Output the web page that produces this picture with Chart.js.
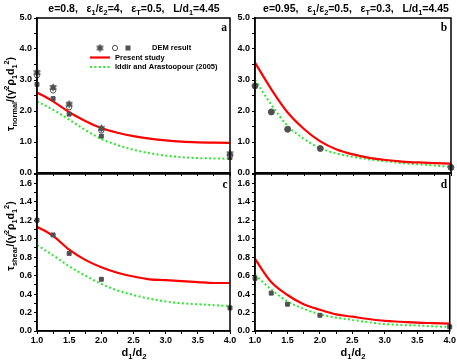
<!DOCTYPE html>
<html><head><meta charset="utf-8">
<script src="https://cdn.jsdelivr.net/npm/chart.js@4.4.1/dist/chart.umd.min.js"></script>
<style>
body{margin:0;background:#fff;}
#wrap{position:relative;width:457px;height:363px;overflow:hidden;background:#fff;}
canvas{position:absolute;left:0;top:0;}
.t{position:absolute;font-family:"Liberation Sans",Arial,sans-serif;font-weight:bold;color:#000;white-space:pre;line-height:1;transform:translate(-50%,-50%);z-index:5;}
.r{transform:translate(-50%,-50%) rotate(-90deg);}
.l{font-family:"Liberation Serif","Times New Roman",serif;font-size:11.5px;}
sub,sup{font-size:70%;line-height:0;}
</style></head><body>
<div id="wrap">
<canvas id="ca" width="457" height="363"></canvas>
<canvas id="cb" width="457" height="363"></canvas>
<canvas id="cc" width="457" height="363"></canvas>
<canvas id="cd" width="457" height="363"></canvas>
<div class="t" style="left:134px;top:8px;font-size:10.5px;">e=0.8,   ε<sub>1</sub>/ε<sub>2</sub>=4,   ε<sub>T</sub>=0.5,   L/d<sub>1</sub>=4.45</div>
<div class="t" style="left:356px;top:8px;font-size:10.5px;">e=0.95,   ε<sub>1</sub>/ε<sub>2</sub>=0.5,   ε<sub>T</sub>=0.3,   L/d<sub>1</sub>=4.45</div>
<div class="t r" style="left:10px;top:94px;font-size:10.5px;">τ<sub>normal</sub>/(γ̇<sup>2</sup>ρ<sub>1</sub>d<sub>1</sub><sup>2</sup>)</div>
<div class="t r" style="left:10px;top:236px;font-size:10.5px;">τ<sub>shear</sub>/(γ̇<sup>2</sup>ρ<sub>1</sub>d<sub>1</sub><sup>2</sup>)</div>
<div class="t" style="left:134px;top:352px;font-size:11px;">d<sub>1</sub>/d<sub>2</sub></div>
<div class="t" style="left:353px;top:352px;font-size:11px;">d<sub>1</sub>/d<sub>2</sub></div>
<div class="t l" style="left:224px;top:28px;">a</div>
<div class="t l" style="left:444px;top:28px;">b</div>
<div class="t l" style="left:225px;top:185px;">c</div>
<div class="t l" style="left:444px;top:185px;">d</div>
</div>
<script>
// ---------- data ----------
const X_CURVE = [1.0,1.25,1.5,1.75,2.0,2.25,2.5,2.75,3.0,3.25,3.5,3.75,4.0];
const X_DEM = [1.0,1.25,1.5,2.0,4.0];

const A_PRESENT = [2.60,2.31,1.96,1.68,1.45,1.30,1.19,1.11,1.05,1.01,0.99,0.98,0.97];
const A_IDDIR   = [2.31,2.04,1.72,1.39,1.10,0.90,0.75,0.64,0.56,0.51,0.48,0.47,0.46];
const A_DEM_STAR   = [3.24,2.76,2.22,1.44,0.62];
const A_DEM_CIRCLE = [3.15,2.66,2.12,1.37,0.58];
const A_DEM_SQUARE = [2.86,2.40,1.90,1.19,0.50];

const B_PRESENT = [3.56,2.70,1.95,1.42,1.02,0.76,0.60,0.49,0.42,0.37,0.34,0.32,0.30];
const B_IDDIR   = [3.00,2.20,1.52,1.10,0.80,0.63,0.52,0.44,0.38,0.32,0.28,0.24,0.20];
const B_DEM     = [2.81,1.97,1.41,0.79,0.18];

const C_PRESENT = [1.13,1.03,0.88,0.77,0.69,0.63,0.59,0.56,0.55,0.54,0.53,0.52,0.52];
const C_IDDIR   = [0.93,0.82,0.70,0.60,0.51,0.44,0.39,0.35,0.32,0.30,0.29,0.28,0.27];
const C_DEM     = [1.20,1.04,0.84,0.56,0.25];

const D_PRESENT = [0.78,0.53,0.39,0.29,0.23,0.18,0.155,0.13,0.11,0.10,0.09,0.085,0.08];
const D_IDDIR   = [0.61,0.45,0.32,0.24,0.18,0.145,0.12,0.095,0.075,0.065,0.06,0.05,0.045];
const D_DEM     = [0.57,0.41,0.29,0.17,0.045];

const LEGEND_LABELS = ["DEM result","Present study","Iddir and Arastoopour (2005)"];

// ---------- styles ----------
const RED = '#ff0000', GREEN = '#2ee62e', GREY = '#505050';
Chart.defaults.font.family = '"Liberation Sans", Arial, sans-serif';
Chart.defaults.font.weight = 'bold';
Chart.defaults.font.size = 9;
Chart.defaults.color = '#000';

function starImg(){
  const c = document.createElement('canvas'); c.width = 9; c.height = 9;
  const g = c.getContext('2d'); g.fillStyle = GREY; g.beginPath();
  for (let i=0;i<12;i++){ const r = i%2===0 ? 4.3 : 2.5; const a = -Math.PI/2 + i*Math.PI/6;
    const px = 4.5 + r*Math.cos(a), py = 4.5 + r*Math.sin(a); i===0?g.moveTo(px,py):g.lineTo(px,py);}
  g.closePath(); g.fill(); return c;
}
const STAR = starImg();

const pts = (xs, ys) => xs.map((x,i)=>({x:x, y:ys[i]}));
function curve(ys, color, dashed){
  return {data: pts(X_CURVE, ys), showLine:true, pointRadius:0, borderColor:color, backgroundColor:color,
    borderWidth: dashed?2:2.2, borderDash: dashed?[2,2.4]:[], cubicInterpolationMode:'monotone', order:1};
}
function dem(ys, style, fill, border, r){
  return {data: pts(X_DEM, ys), showLine:false, pointStyle:style, pointRadius:r, backgroundColor:fill,
    borderColor:border, borderWidth:1, clip:false, order:0};
}

const boxPlugin = {id:'box', afterDraw(chart){ const a = chart.chartArea, c = chart.ctx;
  c.save(); c.strokeStyle='#000'; c.lineWidth=1.5; c.strokeRect(a.left, a.top, a.right-a.left, a.bottom-a.top); c.restore(); }};

const legendPlugin = {id:'leg', afterDraw(chart){ const c = chart.ctx; c.save();
  c.font = 'bold 7.5px "Liberation Sans", Arial, sans-serif'; c.textBaseline='middle';
  c.drawImage(STAR, 95.5, 43.5);
  c.fillStyle='#fff'; c.strokeStyle=GREY; c.lineWidth=1;
  c.beginPath(); c.arc(115,48,2.6,0,Math.PI*2); c.fill(); c.stroke();
  c.fillStyle = GREY; c.fillRect(125.5,45.5,5,5);
  c.fillStyle='#000';
  c.fillText(LEGEND_LABELS[0], 152, 48);
  c.strokeStyle = RED; c.lineWidth = 2.2; c.beginPath(); c.moveTo(90,57.5); c.lineTo(110,57.5); c.stroke();
  c.fillText(LEGEND_LABELS[1], 115, 57.5);
  c.strokeStyle = GREEN; c.lineWidth = 2; c.setLineDash([2,2.4]); c.beginPath(); c.moveTo(90,67); c.lineTo(110,67); c.stroke();
  c.setLineDash([]); c.fillText(LEGEND_LABELS[2], 115, 67);
  c.restore(); }};

// area = [left, right, top, bottom]; yw = width reserved for y tick labels
function make(id, area, yw, yMax, yStep, showX, datasets, plugins){
  const xh = showX ? 14 : 0;
  return new Chart(document.getElementById(id), {
    type:'scatter',
    data:{datasets:datasets},
    options:{
      responsive:false, animation:false, devicePixelRatio:1,
      layout:{padding:{left:area[0]-yw, top:area[2], right:457-area[1], bottom:363-area[3]-xh}},
      plugins:{legend:{display:false}, tooltip:{enabled:false}},
      scales:{
        x:{type:'linear', min:1, max:4, afterFit(s){s.height=xh;},
          border:{display:true, color:'#000', width:1.5},
          grid:{drawOnChartArea:false, color:'#000', tickLength:3},
          ticks:{display:showX, stepSize:0.25, autoSkip:false, maxRotation:0, minRotation:0, padding:1,
            callback(v){ return Math.abs(v*2-Math.round(v*2))<1e-6 ? Number(v).toFixed(1) : ''; }}},
        y:{type:'linear', min:0, max:yMax, afterFit(s){s.width=yw;},
          border:{display:true, color:'#000', width:1.5},
          grid:{drawOnChartArea:false, color:'#000', tickLength:3},
          ticks:{stepSize:yStep, autoSkip:false, padding:2,
            callback(v){ const k = Math.round(v/yStep); return k % 2 === 0 ? Number(v).toFixed(1) : ''; }}}
      }
    },
    plugins:[boxPlugin].concat(plugins||[])
  });
}

make('ca', [37,230,18,173], 37, 5, 0.5, false, [
  curve(A_PRESENT, RED, false), curve(A_IDDIR, GREEN, true),
  dem(A_DEM_STAR, STAR, GREY, GREY, 4.5),
  dem(A_DEM_CIRCLE, 'circle', '#fff', GREY, 2.6),
  dem(A_DEM_SQUARE, 'rect', GREY, GREY, 2.8)
], [legendPlugin]);

make('cb', [255,451,18,173], 24, 5, 0.5, false, [
  curve(B_PRESENT, RED, false), curve(B_IDDIR, GREEN, true),
  dem(B_DEM, 'circle', GREY, GREY, 3)
]);

make('cc', [37,230,174,331], 37, 1.7, 0.1, true, [
  curve(C_PRESENT, RED, false), curve(C_IDDIR, GREEN, true),
  dem(C_DEM, 'rect', GREY, GREY, 2.8)
]);

make('cd', [255,451,174,331], 24, 1.7, 0.1, true, [
  curve(D_PRESENT, RED, false), curve(D_IDDIR, GREEN, true),
  dem(D_DEM, 'rect', GREY, GREY, 2.8)
]);
</script>
</body></html>
